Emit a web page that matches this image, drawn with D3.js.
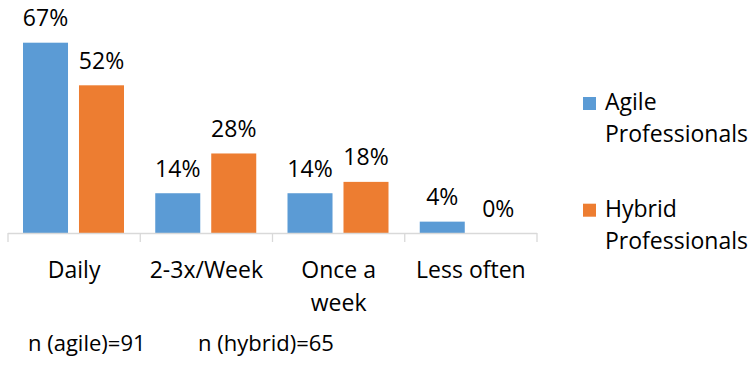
<!DOCTYPE html>
<html>
<head>
<meta charset="utf-8">
<script src="https://cdn.jsdelivr.net/npm/d3@7"></script>
<style>
  html, body { margin: 0; padding: 0; background: #fff; }
  svg { display: block; font-family: "Open Sans", sans-serif; }
</style>
</head>
<body>
<svg id="chart" width="749" height="370"></svg>
<script>
const categories = ["Daily", "2-3x/Week", "Once a week", "Less often"];
const categoryLines = [["Daily"], ["2-3x/Week"], ["Once a", "week"], ["Less often"]];
const seriesNames = ["Agile Professionals", "Hybrid Professionals"];
const legendLines = [["Agile", "Professionals"], ["Hybrid", "Professionals"]];
const agileValues = [67, 14, 14, 4];
const hybridValues = [52, 28, 18, 0];
const colors = ["#5B9BD5", "#ED7D31"];
const notes = ["n (agile)=91", "n (hybrid)=65"];

const svg = d3.select("#chart");
const fontSize = 23;

const x = d3.scaleBand().domain(categories).range([8, 537]).paddingInner(0).paddingOuter(0);
const xs = d3.scaleBand().domain(seriesNames).range([15, 116]).paddingInner(0.196);
const y = d3.scaleLinear().domain([0, 67]).range([233, 42.7]);

const data = categories.map((c, i) => ({
  cat: c,
  values: [
    { s: seriesNames[0], v: agileValues[i], color: colors[0] },
    { s: seriesNames[1], v: hybridValues[i], color: colors[1] }
  ]
}));

const groups = svg.selectAll("g.grp").data(data).join("g")
  .attr("class", "grp")
  .attr("transform", d => `translate(${x(d.cat)},0)`);

groups.selectAll("rect").data(d => d.values).join("rect")
  .attr("x", d => xs(d.s))
  .attr("width", xs.bandwidth())
  .attr("y", d => y(d.v))
  .attr("height", d => y(0) - y(d.v))
  .attr("fill", d => d.color);

groups.selectAll("text.val").data(d => d.values).join("text")
  .attr("class", "val")
  .attr("x", d => xs(d.s) + xs.bandwidth() / 2)
  .attr("y", d => y(d.v) - 16.5)
  .attr("text-anchor", "middle")
  .attr("font-size", fontSize)
  .attr("fill", "#000")
  .text(d => d.v + "%");

// axis
const axis = d3.axisBottom(x).tickSize(0).tickFormat("");
const axG = svg.append("g").attr("transform", `translate(0,${y(0)})`).call(axis);
axG.select(".domain").attr("stroke", "#D9D9D9").attr("stroke-width", 1.3)
  .attr("d", `M${x.range()[0]},0.5H${x.range()[1]}`);
axG.selectAll(".tick").remove();
const tickPositions = categories.map(c => x(c)).concat([x.range()[1]]);
axG.selectAll("line.tk").data(tickPositions).join("line")
  .attr("class", "tk")
  .attr("x1", d => d).attr("x2", d => d)
  .attr("y1", 0).attr("y2", 9)
  .attr("stroke", "#D9D9D9").attr("stroke-width", 1.3);

// category labels
svg.selectAll("text.cat").data(categories).join("text")
  .attr("class", "cat")
  .attr("text-anchor", "middle")
  .attr("font-size", fontSize)
  .attr("fill", "#000")
  .each(function(d, i) {
    const t = d3.select(this);
    categoryLines[i].forEach((line, j) => {
      t.append("tspan")
        .attr("x", x(d) + x.bandwidth() / 2)
        .attr("y", 277.5 + j * 33)
        .text(line);
    });
  });

// notes
const noteX = [28, 198];
svg.selectAll("text.note").data(notes).join("text")
  .attr("class", "note")
  .attr("x", (d, i) => noteX[i])
  .attr("y", 351)
  .attr("font-size", 22)
  .attr("fill", "#000")
  .text(d => d);

// legend
const legendY = [110, 216.7];
const lg = svg.selectAll("g.leg").data(seriesNames).join("g").attr("class", "leg");
lg.append("rect")
  .attr("x", 583)
  .attr("y", (d, i) => legendY[i] - 13)
  .attr("width", 13).attr("height", 13)
  .attr("fill", (d, i) => colors[i]);
lg.append("text")
  .attr("font-size", fontSize)
  .attr("fill", "#000")
  .each(function(d, i) {
    const t = d3.select(this);
    legendLines[i].forEach((line, j) => {
      t.append("tspan").attr("x", 605).attr("y", legendY[i] + j * 32).text(line);
    });
  });
</script>
</body>
</html>
